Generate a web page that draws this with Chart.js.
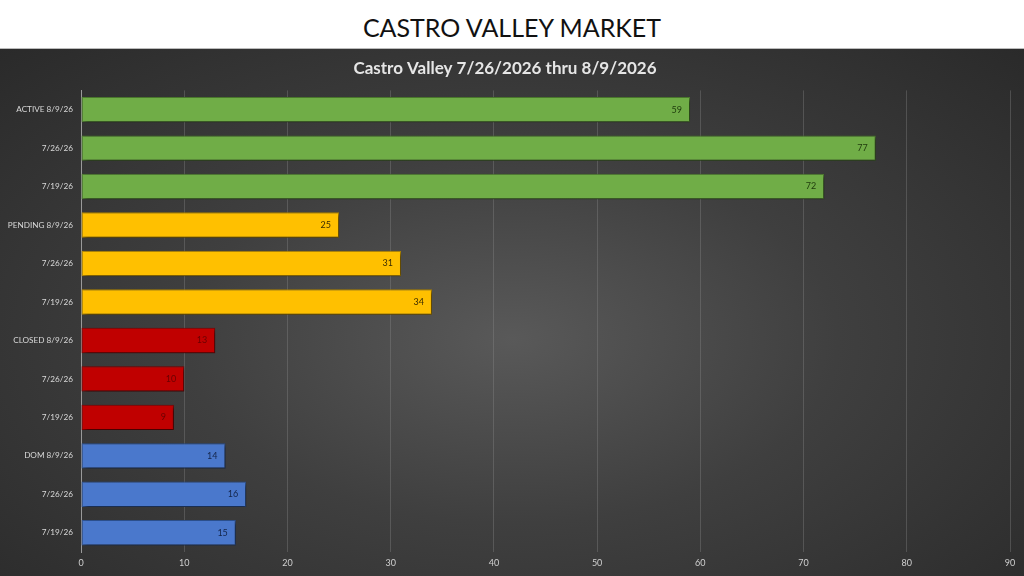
<!DOCTYPE html>
<html>
<head>
<meta charset="utf-8">
<script src="https://cdn.jsdelivr.net/npm/chart.js@4.4.1/dist/chart.umd.min.js"></script>
<style>
  html, body { margin: 0; padding: 0; width: 1024px; height: 576px; overflow: hidden; background: #fff; }
  #header {
    height: 49px; line-height: 54px; text-align: center;
    font-family: Lato, "Open Sans", sans-serif; font-size: 25px; color: #111;
    border-bottom: 1px solid #bbb; box-sizing: border-box;
  }
  #panel {
    position: absolute; top: 49px; left: 0; width: 1024px; height: 527px;
    background: radial-gradient(ellipse at 50% 55%, #595959 0%, #3f3f3f 45%, #2a2a2a 100%);
  }
</style>
</head>
<body>
<div id="header">CASTRO VALLEY MARKET</div>
<div id="panel"><canvas id="myChart" width="1024" height="527"></canvas></div>
<script>
var categories = ["ACTIVE 8/9/26", "7/26/26", "7/19/26",
  "PENDING 8/9/26", "7/26/26", "7/19/26",
  "CLOSED 8/9/26", "7/26/26", "7/19/26",
  "DOM 8/9/26", "7/26/26", "7/19/26"];
var counts = [59, 77, 72, 25, 31, 34, 13, 10, 9, 14, 16, 15];
var xTicks = [0, 10, 20, 30, 40, 50, 60, 70, 80, 90];

var groupFill = ["#70AD47", "#FFC000", "#C00000", "#4A78CC"];
var groupEdge = ["#4f7f30", "#b88a00", "#8a0000", "#2f5597"];
var groupText = ["#1e3a0c", "#3b2c00", "#6a0000", "#14254a"];
function grp(i) { return Math.floor(i / 3); }

// bar value labels, drawn inside the end of each bar
var barLabels = {
  id: 'barLabels',
  afterDatasetsDraw: function (chart) {
    var ctx = chart.ctx;
    var meta = chart.getDatasetMeta(0);
    ctx.save();
    ctx.font = '9px Lato, sans-serif';
    ctx.textAlign = 'right';
    ctx.textBaseline = 'middle';
    meta.data.forEach(function (bar, i) {
      ctx.fillStyle = groupText[grp(i)];
      ctx.fillText(counts[i], bar.x - 8, bar.y);
    });
    ctx.restore();
  }
};

var barShadow = {
  id: 'barShadow',
  beforeDatasetsDraw: function (chart) {
    var ctx = chart.ctx;
    ctx.save();
    ctx.shadowColor = 'rgba(0,0,0,0.6)';
    ctx.shadowBlur = 4;
    ctx.shadowOffsetX = 2;
    ctx.shadowOffsetY = 2;
  },
  afterDatasetsDraw: function (chart) {
    chart.ctx.restore();
  }
};

new Chart(document.getElementById("myChart"), {
  type: 'bar',
  data: {
    labels: categories,
    datasets: [{
      data: counts,
      backgroundColor: counts.map(function (v, i) { return groupFill[grp(i)]; }),
      borderColor: counts.map(function (v, i) { return groupEdge[grp(i)]; }),
      borderWidth: 1,
      borderSkipped: false,
      barPercentage: 0.66,
      categoryPercentage: 1
    }]
  },
  options: {
    indexAxis: 'y',
    responsive: false,
    animation: false,
    layout: { padding: { left: 0, right: 14, top: 0, bottom: 0 } },
    plugins: {
      legend: { display: false },
      tooltip: { enabled: false },
      title: {
        display: true,
        text: 'Castro Valley 7/26/2026 thru 8/9/2026',
        color: '#e6e6e6',
        font: { family: 'Lato, sans-serif', size: 17, weight: 'bold' },
        padding: { top: 9, bottom: 12 }
      }
    },
    scales: {
      x: {
        min: 0, max: 90,
        afterBuildTicks: function (axis) {
          axis.ticks = xTicks.map(function (v) { return { value: v }; });
        },
        afterFit: function (axis) { axis.height = 24; },
        grid: { color: 'rgba(140,140,140,0.35)', drawTicks: false },
        border: { display: false },
        ticks: { color: '#d0d0d0', font: { family: 'Lato, sans-serif', size: 9 }, padding: 6 }
      },
      y: {
        afterFit: function (axis) { axis.width = 81; },
        grid: { display: false },
        border: { display: true, color: '#9a9a9a', width: 1 },
        ticks: { color: '#d9d9d9', font: { family: 'Lato, sans-serif', size: 8.2 }, padding: 0, autoSkip: false }
      }
    }
  },
  plugins: [barShadow, barLabels]
});
</script>
</body>
</html>
